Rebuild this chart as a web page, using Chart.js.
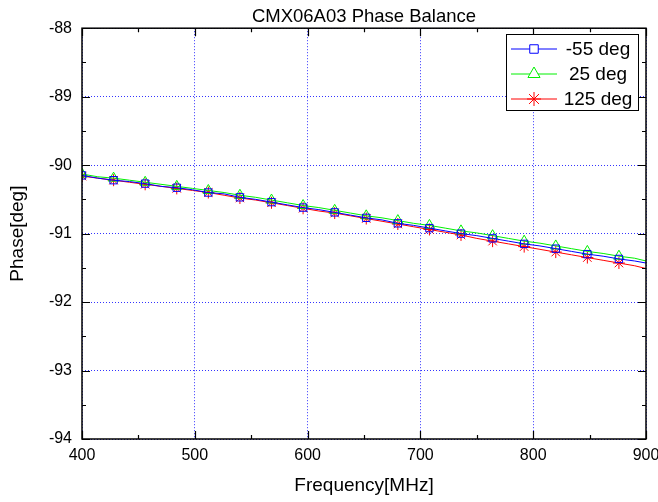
<!DOCTYPE html>
<html>
<head>
<meta charset="utf-8">
<script src="https://cdn.jsdelivr.net/npm/chart.js@4.4.0/dist/chart.umd.min.js"></script>
<style>
  html, body { margin: 0; padding: 0; background: #fff; }
  #wrap { width: 658px; height: 502px; }
</style>
</head>
<body>
<div id="wrap"><canvas id="phaseChart" width="658" height="502"></canvas></div>
<script>
/* --------------- Data --------------------------------------- */
const freqs = [400, 414, 428, 442, 456, 470, 484, 498, 512, 526, 540, 554, 568, 582, 596, 610, 624, 638,
  652, 666, 680, 694, 708, 722, 736, 750, 764, 778, 792, 806, 820, 834, 848, 862, 876, 890, 900];

const phaseM55 = [-90.15, -90.19, -90.22, -90.24, -90.27, -90.31, -90.33, -90.36, -90.40, -90.42, -90.47, -90.50,
  -90.54, -90.58, -90.62, -90.65, -90.69, -90.73, -90.77, -90.80, -90.85, -90.88, -90.92, -90.96, -91.00, -91.03,
  -91.07, -91.11, -91.15, -91.18, -91.22, -91.26, -91.30, -91.33, -91.37, -91.40, -91.43];

const phase25 = [-90.13, -90.17, -90.19, -90.22, -90.25, -90.28, -90.31, -90.34, -90.37, -90.40, -90.44, -90.47,
  -90.51, -90.55, -90.59, -90.62, -90.66, -90.70, -90.74, -90.77, -90.81, -90.85, -90.88, -90.92, -90.96, -90.99,
  -91.03, -91.07, -91.11, -91.14, -91.18, -91.22, -91.26, -91.29, -91.33, -91.36, -91.40];

const phase125 = [-90.16, -90.19, -90.22, -90.25, -90.28, -90.31, -90.34, -90.37, -90.40, -90.44, -90.48, -90.51,
  -90.55, -90.59, -90.63, -90.67, -90.70, -90.74, -90.78, -90.82, -90.86, -90.90, -90.94, -90.98, -91.02, -91.07,
  -91.11, -91.15, -91.19, -91.23, -91.27, -91.31, -91.35, -91.39, -91.43, -91.47, -91.51];

const seriesLabels = ["-55 deg", "25 deg", "125 deg"];
const xTicks = [400, 500, 600, 700, 800, 900];
const yTicks = [-94, -93, -92, -91, -90, -89, -88];

/* --------------- Helpers --------------------- */
const toPoints = (ys) => freqs.map((f, i) => ({ x: f, y: ys[i] }));
const FONT = "'Liberation Sans', Arial, sans-serif";

// markers on every other sample, not on the last one
const markerRadius = (r) => (ctx) =>
  (ctx.dataIndex % 2 === 0 && ctx.dataIndex < freqs.length - 1) ? r : 0;

/* --------------- Frame, inner ticks and legend --------------------- */
const framePlugin = {
  id: "frame",
  afterDatasetsDraw(chart) {
    const { ctx, chartArea: a, scales } = chart;
    ctx.save();
    ctx.strokeStyle = "#000";
    ctx.lineWidth = 1.5;
    ctx.strokeRect(a.left, a.top, a.right - a.left, a.bottom - a.top);

    ctx.lineWidth = 1.2;
    ctx.beginPath();
    for (let v = 400; v <= 900; v += 50) {
      const px = Math.round(scales.x.getPixelForValue(v)) + 0.5;
      const len = v % 100 === 0 ? 8 : 4;
      ctx.moveTo(px, a.bottom); ctx.lineTo(px, a.bottom - len);
      ctx.moveTo(px, a.top); ctx.lineTo(px, a.top + len);
    }
    for (let v = -94; v <= -88; v += 0.5) {
      const py = Math.round(scales.y.getPixelForValue(v)) + 0.5;
      const len = Number.isInteger(v) ? 8 : 4;
      ctx.moveTo(a.left, py); ctx.lineTo(a.left + len, py);
      ctx.moveTo(a.right, py); ctx.lineTo(a.right - len, py);
    }
    ctx.stroke();
    ctx.restore();
  },
  afterDraw(chart) {
    const { ctx } = chart;
    const bx = 506, by = 34, bw = 132, bh = 76;
    ctx.save();
    ctx.fillStyle = "#fff";
    ctx.fillRect(bx, by, bw, bh);
    ctx.strokeStyle = "#000";
    ctx.lineWidth = 1;
    ctx.strokeRect(bx + 0.5, by + 0.5, bw, bh);

    chart.data.datasets.forEach((ds, i) => {
      const y = by + 15 + i * 25;
      ctx.strokeStyle = ds.borderColor;
      ctx.lineWidth = 1;
      ctx.beginPath();
      ctx.moveTo(511, y); ctx.lineTo(557, y);
      ctx.stroke();
      ctx.fillStyle = "#fff";
      Chart.helpers.drawPoint(ctx, {
        pointStyle: ds.pointStyle, radius: ds.legendRadius, borderWidth: 1
      }, 534, y);
      ctx.fillStyle = "#000";
      ctx.font = "19px " + FONT;
      ctx.textAlign = "center";
      ctx.textBaseline = "middle";
      ctx.fillText(seriesLabels[i], 598, y + 1);
    });
    ctx.restore();
  }
};

/* --------------- Chart --------------------- */
const gridStyle = {
  color: "rgba(30, 30, 255, 0.9)",
  lineWidth: 1,
  drawTicks: false
};

new Chart(document.getElementById("phaseChart"), {
  type: "line",
  data: {
    datasets: [
      {
        label: seriesLabels[0], data: toPoints(phaseM55),
        borderColor: "#0000ff", backgroundColor: "rgba(0,0,0,0)",
        pointStyle: "rect", pointRadius: markerRadius(5.2), legendRadius: 6
      },
      {
        label: seriesLabels[1], data: toPoints(phase25),
        borderColor: "#00f000", backgroundColor: "rgba(0,0,0,0)",
        pointStyle: "triangle", pointRadius: markerRadius(6), legendRadius: 7
      },
      {
        label: seriesLabels[2], data: toPoints(phase125),
        borderColor: "#ff0000", backgroundColor: "rgba(0,0,0,0)",
        pointStyle: "star", pointRadius: markerRadius(6), legendRadius: 7
      }
    ]
  },
  options: {
    responsive: false,
    animation: false,
    layout: { padding: { left: 0, right: 12, top: 0, bottom: 0 } },
    elements: {
      line: { borderWidth: 1, tension: 0 },
      point: { borderWidth: 1, hoverRadius: 0 }
    },
    plugins: {
      legend: { display: false },
      tooltip: { enabled: false },
      title: {
        display: true,
        text: "CMX06A03 Phase Balance",
        color: "#000",
        fullSize: false,
        font: { family: FONT, size: 18.5, weight: "normal" },
        padding: { top: 6, bottom: 0 }
      }
    },
    scales: {
      x: {
        type: "linear", min: 400, max: 900,
        afterBuildTicks: (s) => { s.ticks = xTicks.map((v) => ({ value: v })); },
        afterFit: (s) => { s.height = 63; s.paddingLeft = 0; s.paddingRight = 0; },
        grid: gridStyle,
        border: { display: false, dash: [1, 2] },
        ticks: { color: "#000", padding: 7, maxRotation: 0, font: { family: FONT, size: 16 } },
        title: {
          display: true, text: "Frequency[MHz]", color: "#000",
          font: { family: FONT, size: 19 }, padding: { top: 4, bottom: 5 }
        }
      },
      y: {
        type: "linear", min: -94, max: -88,
        afterBuildTicks: (s) => { s.ticks = yTicks.map((v) => ({ value: v })); },
        afterFit: (s) => { s.width = 82; s.paddingTop = 0; s.paddingBottom = 0; },
        grid: gridStyle,
        border: { display: false, dash: [1, 2] },
        ticks: { color: "#000", padding: 10, font: { family: FONT, size: 16 } },
        title: {
          display: true, text: "Phase[deg]", color: "#000",
          font: { family: FONT, size: 19 }, padding: { top: 6, bottom: 4 }
        }
      }
    }
  },
  plugins: [framePlugin]
});
</script>
</body>
</html>
